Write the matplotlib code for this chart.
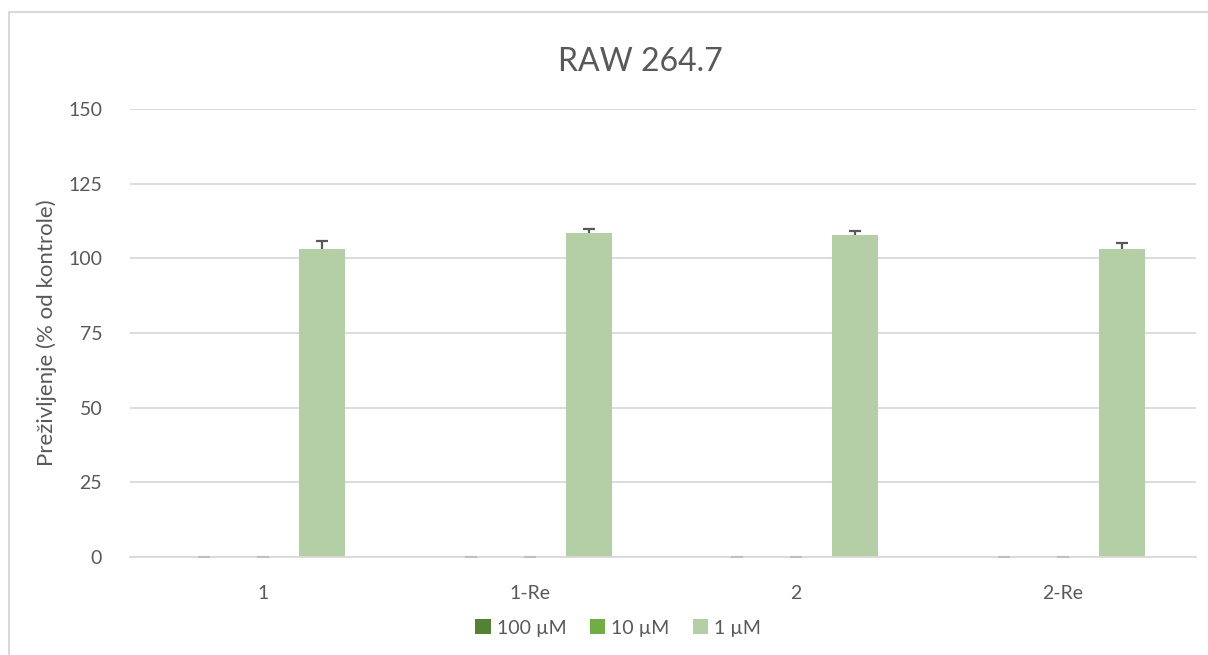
import numpy as np
import matplotlib.pyplot as plt
from matplotlib.patches import Rectangle

# --- Data ---
categories = ['1', '1-Re', '2', '2-Re']
series = ['100 µM', '10 µM', '1 µM']
values_100 = [0, 0, 0, 0]
values_10 = [0, 0, 0, 0]
values_1 = [103.1, 108.4, 107.8, 103.1]
err_100 = [0, 0, 0, 0]
err_10 = [0, 0, 0, 0]
err_1 = [2.8, 1.4, 1.4, 2.2]
y_ticks = [0, 25, 50, 75, 100, 125, 150]

colors = ['#548235', '#70ad47', '#b4cea6']
text_color = '#595959'
grid_color = '#d9d9d9'

plt.rcParams['font.family'] = ['Lato', 'DejaVu Sans']

W, H = 1208, 655
fig = plt.figure(figsize=(W / 100, H / 100), dpi=100)

# chart border (Excel chart area) - only left/top visible in the crop
fig.patches.append(Rectangle((9 / W, -0.2), 1.2, 1.2 - 12 / H, transform=fig.transFigure,
                             fill=False, edgecolor=grid_color, linewidth=1.5))

ax = fig.add_axes([130 / W, (H - 557) / H, (1196 - 130) / W, (557 - 109) / H])

x = np.arange(len(categories))
width = 0.173
offset = 0.221
all_vals = [values_100, values_10, values_1]
all_err = [err_100, err_10, err_1]
for i, (vals, errs) in enumerate(zip(all_vals, all_err)):
    pos = x + (i - 1) * offset
    vals = np.array(vals)
    errs = np.array(errs)
    ax.bar(pos, vals, width, color=colors[i], label=series[i], zorder=2)
    # upper-only error bar: stem + cap
    ecol = '#595959' if i == 2 else '#bfbfbf'
    ax.vlines(pos, vals, vals + errs, color=ecol, linewidth=1.6, zorder=3)
    ax.plot(pos, vals + errs, ls='none', marker='_', markersize=9,
            markeredgewidth=1.6, color=ecol, zorder=3)

ax.set_xlim(-0.5, len(categories) - 0.5)
ax.set_ylim(0, 150)
ax.set_yticks(y_ticks)
ax.set_xticks(x)
ax.set_xticklabels(categories)
ax.tick_params(axis='both', length=0, colors=text_color, labelsize=14)
ax.tick_params(axis='x', pad=20)
ax.tick_params(axis='y', pad=20)
ax.yaxis.grid(True, color=grid_color, linewidth=1.3, zorder=0)
ax.set_axisbelow(True)
for s in ['top', 'right', 'left']:
    ax.spines[s].set_visible(False)
ax.spines['bottom'].set_color(grid_color)
ax.spines['bottom'].set_linewidth(1.3)

ax.set_ylabel('Preživljenje (% od kontrole)', color=text_color, fontsize=16, labelpad=8)
fig.text(640 / W, 1 - 62 / H, 'RAW 264.7', ha='center', va='center',
         color=text_color, fontsize=23)

leg = ax.legend(loc='center', bbox_to_anchor=(618 / W, 1 - 628 / H),
                bbox_transform=fig.transFigure, ncol=3, frameon=False,
                fontsize=14, handlelength=0.8, handleheight=0.8,
                handletextpad=0.3, columnspacing=1.2)
for t in leg.get_texts():
    t.set_color(text_color)

fig.savefig('out.png', dpi=100)
